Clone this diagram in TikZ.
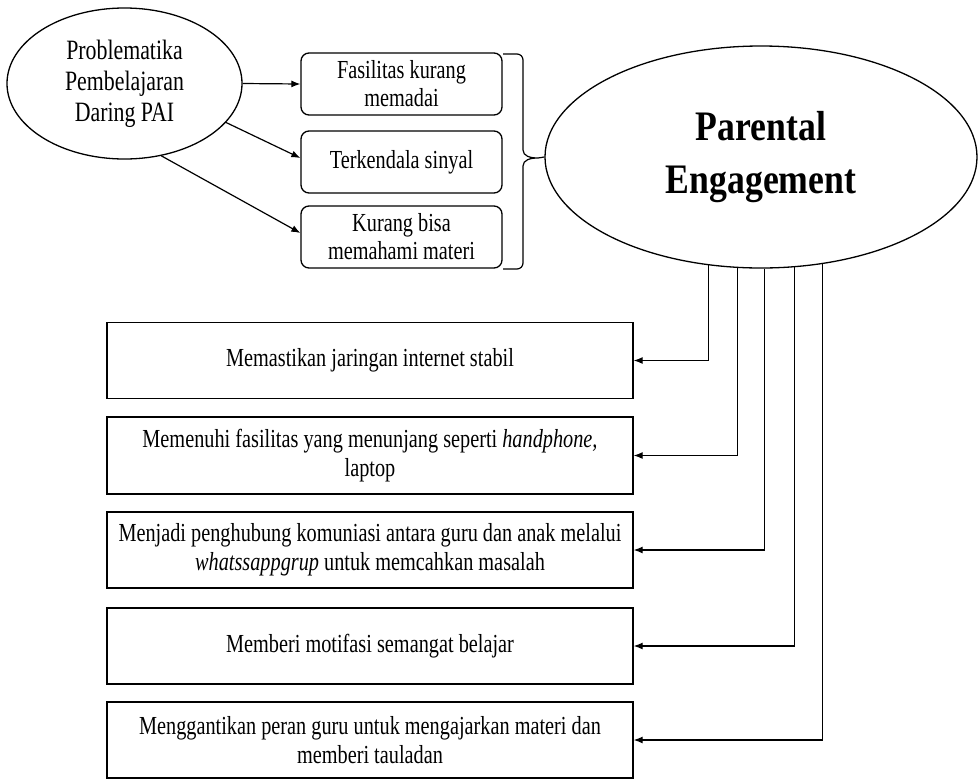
\documentclass[tikz,border=0pt]{standalone}
\usepackage{fontspec}
\setmainfont{Liberation Serif}
\newfontfamily\condfont{Liberation Serif}[FakeStretch=0.78]
\newfontfamily\pefont{Liberation Serif}[FakeStretch=0.85]
\usetikzlibrary{shapes.geometric,arrows.meta}
\begin{document}
\begin{tikzpicture}[x=1pt,y=-1pt,
  ell/.style={ellipse, draw, line width=1.3pt, inner sep=0pt},
  sbox/.style={draw, rounded corners=8pt, line width=1.3pt, minimum width=201pt, minimum height=62pt, inner sep=2pt, align=center, font=\condfont\fontsize{26}{28}\selectfont},
  mbox/.style={draw, line width=1.4pt, minimum width=526pt, minimum height=76pt, inner sep=1pt, align=center, font=\condfont\fontsize{26}{29}\selectfont},
  arr/.style={-{Latex[length=9pt,width=7pt]}, line width=1.2pt},
  conn/.style={line width=1.2pt}]
\useasboundingbox (0,0) rectangle (980,780);
% left ellipse
\node[ell, minimum width=235pt, minimum height=151pt, align=center, font=\condfont\fontsize{28}{31}\selectfont] (L) at (124.5,83.5) {Problematika\\Pembelajaran\\Daring PAI};
% problem boxes
\node[sbox] (b1) at (401.5,84) {Fasilitas kurang\\memadai};
\node[sbox] (b2) at (401.5,162) {Terkendala sinyal};
\node[sbox] (b3) at (401.5,237) {Kurang bisa\\memahami materi};
% big ellipse
\node[ell, minimum width=432pt, minimum height=222pt, align=center, font=\pefont\fontsize{42}{53}\selectfont\bfseries] (PE) at (761,157) {Parental\\Engagement};
% bottom boxes
\node[mbox] (m1) at (370,360.5) {Memastikan jaringan internet stabil};
\node[mbox, minimum height=77pt] (m2) at (370,455.5) {Memenuhi fasilitas yang menunjang seperti \textit{handphone,}\\laptop};
\node[mbox] (m3) at (370,550) {Menjadi penghubung komuniasi antara guru dan anak melalui\\\textit{whatssappgrup} untuk memcahkan masalah};
\node[mbox] (m4) at (370,646) {Memberi motifasi semangat belajar};
\node[mbox] (m5) at (370,740) {Menggantikan peran guru untuk mengajarkan materi dan\\memberi tauladan};
% arrows from left ellipse
\draw[arr] (L.east) -- (b1.west);
\draw[arr] (L.-21.85) -- ([yshift=4pt]b2.west);
\draw[arr] (L.-63) -- ([yshift=4pt]b3.west);
% brace
\coordinate (tip) at (538,158);
\draw[conn] (503,54) -- (517,54) to[out=0,in=90] (523,60) -- (523,150)
  .. controls (523,156) and (530,158) .. (tip)
  .. controls (530,158) and (523,160) .. (523,166) -- (523,263)
  to[out=-90,in=0] (517,269) -- (503,269);
\draw[conn] (tip) -- (PE.west);
% connectors from PE
\draw[arr] (PE.244.7) |- (m1.east);
\draw[arr] (PE.258.23) |- (m2.east);
\draw[arr] (PE.272.06) |- (m3.east);
\draw[arr] (PE.287.23) |- (m4.east);
\draw[arr] (PE.300.26) |- (m5.east);
\end{tikzpicture}
\end{document}
